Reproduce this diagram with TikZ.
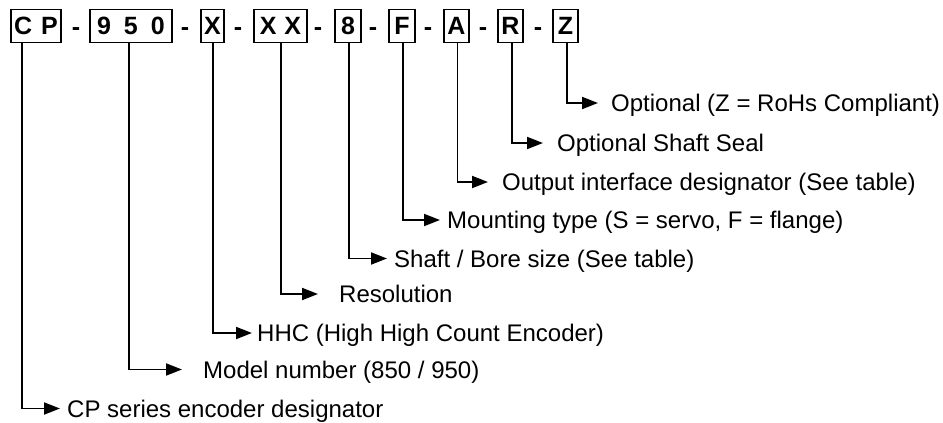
\documentclass[tikz,border=0pt]{standalone}
\usepackage{fontspec}
\setmainfont{Liberation Sans}
\usetikzlibrary{arrows.meta}
\begin{document}
\begin{tikzpicture}[x=1pt,y=-1pt,
  cbox/.style={draw, line width=1.9pt, inner sep=0pt, minimum height=33pt,
    font=\fontsize{25}{25}\selectfont\bfseries, anchor=west},
  sepchar/.style={font=\fontsize{25}{25}\selectfont\bfseries, inner sep=0pt, anchor=base},
  lbl/.style={font=\fontsize{24}{28}\selectfont, inner sep=0pt, anchor=base west},
  conn/.style={line width=1.9pt, -{Triangle[length=16pt,width=12pt]}}]
\useasboundingbox (0,0) rectangle (943,423);

% code boxes
\node[cbox, minimum width=50pt] (bCP)  at (10,26)  {C\hspace{9pt}P};
\node[cbox, minimum width=82pt] (b950) at (89,26)  {9\hspace{13pt}5\hspace{13pt}0};
\node[cbox, minimum width=23pt] (bX)   at (200,26) {X};
\node[cbox, minimum width=53pt] (bXX)  at (253,26) {X\hspace{8pt}X};
\node[cbox, minimum width=26pt] (b8)   at (334,26) {8};
\node[cbox, minimum width=26pt] (bF)   at (388,26) {F};
\node[cbox, minimum width=25pt] (bA)   at (443,26) {A};
\node[cbox, minimum width=25pt] (bR)   at (497,26) {R};
\node[cbox, minimum width=25pt] (bZ)   at (552,26) {Z};

% separators
\node[sepchar] (d1) at (76,35)  {-};
\node[sepchar] (d2) at (185,35) {-};
\node[sepchar] (d3) at (238,35) {-};
\node[sepchar] (d4) at (318,35) {-};
\node[sepchar] (d5) at (373,35) {-};
\node[sepchar] (d6) at (428,35) {-};
\node[sepchar] (d7) at (483,35) {-};
\node[sepchar] (d8) at (538,35) {-};

% labels (baseline = arrow level + 8.6)
\node[lbl] (lZ)   at (611,111.6) {Optional (Z = RoHs Compliant)};
\node[lbl] (lR)   at (557,151.6) {Optional Shaft Seal};
\node[lbl] (lA)   at (502,190.6) {Output interface designator (See table)};
\node[lbl] (lF)   at (447,228.6) {Mounting type (S = servo, F = flange)};
\node[lbl] (l8)   at (394,267.1) {Shaft / Bore size (See table)};
\node[lbl] (lXX)  at (339,302.6) {Resolution};
\node[lbl] (lX)   at (257,341.6) {HHC (High High Count Encoder)};
\node[lbl] (l950) at (203,378.1) {Model number (850 / 950)};
\node[lbl] (lCP)  at (67,417.1)  {CP series encoder designator};

% connectors
\draw[conn] ([xshift=1.5pt]bZ.south)  |- ([xshift=-13pt,yshift=8.6pt]lZ.base west);
\draw[conn] ([xshift=1.5pt]bR.south)  |- ([xshift=-14pt,yshift=8.6pt]lR.base west);
\draw[conn] ([xshift=1pt]bA.south)    |- ([xshift=-14pt,yshift=8.6pt]lA.base west);
\draw[conn] ([xshift=1pt]bF.south)    |- ([xshift=-7pt,yshift=8.6pt]lF.base west);
\draw[conn] ([xshift=1pt]b8.south)    |- ([xshift=-7pt,yshift=8.6pt]l8.base west);
\draw[conn] ([xshift=0.5pt]bXX.south) |- ([xshift=-21pt,yshift=8.6pt]lXX.base west);
\draw[conn] ([xshift=0.5pt]bX.south)  |- ([xshift=-5pt,yshift=8.6pt]lX.base west);
\draw[conn] ([xshift=-2pt]b950.south) |- ([xshift=-21pt,yshift=8.6pt]l950.base west);
\draw[conn] ([xshift=-14pt]bCP.south) |- ([xshift=-7pt,yshift=8.6pt]lCP.base west);
\end{tikzpicture}
\end{document}
